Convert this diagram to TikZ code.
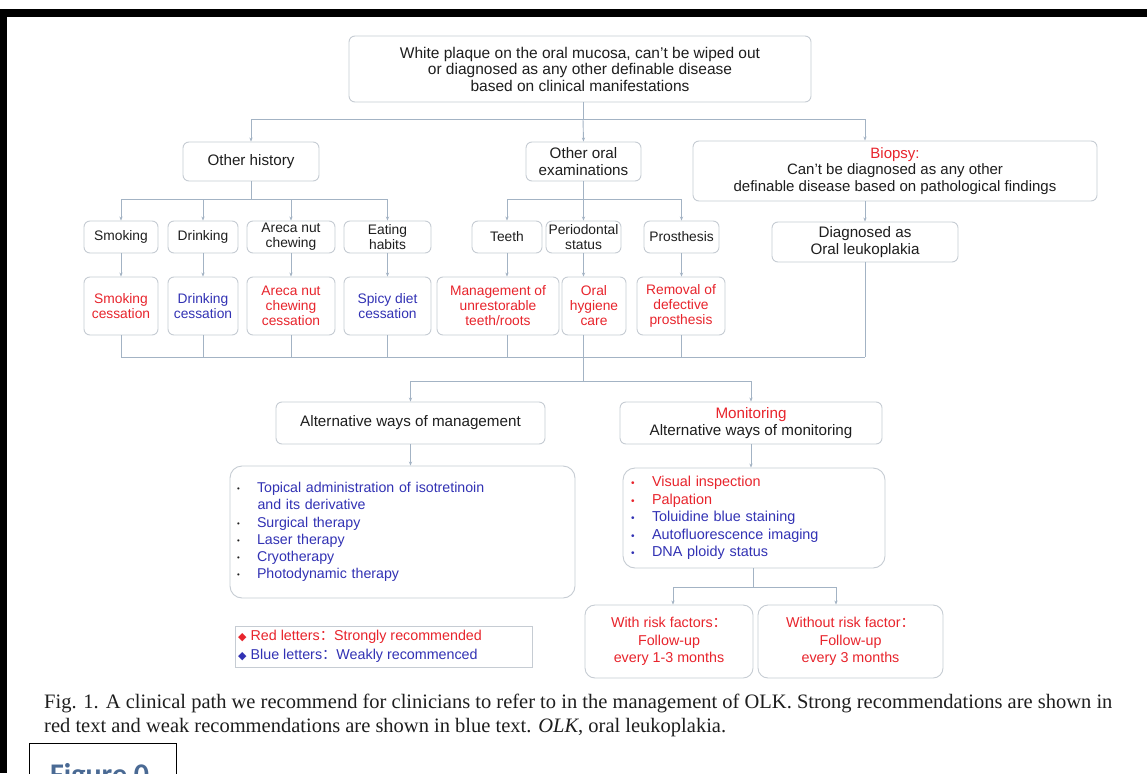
\documentclass[tikz,border=0pt]{standalone}
\usepackage{fontspec}
\setmainfont{Liberation Sans}
\newfontfamily\capfont{Liberation Serif}
\newfontfamily\figfont{Carlito}
\newfontfamily\cjk{Noto Sans CJK SC}
\newfontfamily\symfont{DejaVu Sans}
\usetikzlibrary{arrows.meta}
\definecolor{rtxt}{HTML}{E8242C}
\definecolor{btxt}{HTML}{3232B4}
\definecolor{ktxt}{HTML}{1E1E1E}
\definecolor{lncol}{HTML}{A3B3C4}
\definecolor{bxcol}{HTML}{C6CCD3}
\definecolor{figblue}{HTML}{4A6A94}
\newcommand{\fcolon}{{\cjk ：}}
\begin{document}
\begin{tikzpicture}[x=1pt,y=-1pt,
 bx/.style={draw=bxcol, line width=0.9pt, rounded corners=6pt, fill=white, align=center, inner sep=0pt, text=ktxt},
 bigtxt/.style={font=\fontsize{15.2}{16.5}\selectfont},
 midtxt/.style={font=\fontsize{13.8}{15}\selectfont},
 ln/.style={draw=lncol, line width=0.9pt},
 arr/.style={ln, -{Stealth[length=4pt,width=3.2pt]}},
]
\useasboundingbox (0,0) rectangle (1147,773);
\clip (0,0) rectangle (1147,773);
\fill[white] (0,0) rectangle (1147,773);
% black frame
\fill[black] (0,9) rectangle (1147,17);
\fill[black] (0,9) rectangle (7,773);

% top box
\node[bx, font=\fontsize{15.5}{16.5}\selectfont, minimum width=462pt, minimum height=66pt] (top) at (580,69)
 {White plaque on the oral mucosa, can't be wiped out\\or diagnosed as any other definable disease\\based on clinical manifestations};

% level 1
\node[bx, bigtxt, minimum width=136pt, minimum height=39pt] (hist) at (251,161.5) {Other history};
\node[bx, bigtxt, minimum width=115pt, minimum height=39pt] (oral) at (583.5,161.5) {Other oral\\examinations};
\node[bx, font=\fontsize{15}{16.5}\selectfont, minimum width=404pt, minimum height=60pt] (biop) at (895,171)
 {\textcolor{rtxt}{Biopsy:}\\Can't be diagnosed as any other\\definable disease based on pathological findings};
\node[bx, bigtxt, minimum width=186pt, minimum height=40pt] (diag) at (865,242) {Diagnosed as\\Oral leukoplakia};

% level 2
\node[bx, midtxt, minimum width=74pt, minimum height=32pt] (smk) at (121,237) {Smoking};
\node[bx, midtxt, minimum width=70pt, minimum height=32pt] (drk) at (203,237) {Drinking};
\node[bx, midtxt, minimum width=88pt, minimum height=32pt] (are) at (291,237) {Areca nut\\chewing};
\node[bx, midtxt, minimum width=87pt, minimum height=32pt] (eat) at (387.5,237) {Eating\\habits};
\node[bx, midtxt, minimum width=70pt, minimum height=32pt] (tee) at (507,237) {Teeth};
\node[bx, midtxt, minimum width=75pt, minimum height=32pt] (per) at (583.5,237) {Periodontal\\status};
\node[bx, midtxt, minimum width=75pt, minimum height=32pt] (pro) at (681.5,237) {Prosthesis};

% level 3
\node[bx, midtxt, text=rtxt, minimum width=74pt, minimum height=58pt] (smkc) at (121,306) {Smoking\\cessation};
\node[bx, midtxt, text=btxt, minimum width=70pt, minimum height=58pt] (drkc) at (203,306) {Drinking\\cessation};
\node[bx, midtxt, text=rtxt, minimum width=88pt, minimum height=58pt] (arec) at (291,306) {Areca nut\\chewing\\cessation};
\node[bx, midtxt, text=btxt, minimum width=87pt, minimum height=58pt] (spc) at (387.5,306) {Spicy diet\\cessation};
\node[bx, midtxt, text=rtxt, minimum width=122pt, minimum height=58pt] (mgc) at (498,306) {Management of\\unrestorable\\teeth/roots};
\node[bx, midtxt, text=rtxt, minimum width=64pt, minimum height=58pt] (ohc) at (594,306) {Oral\\hygiene\\care};
\node[bx, midtxt, text=rtxt, minimum width=88pt, minimum height=58pt] (rmc) at (681,306) {Removal of\\defective\\prosthesis};

% level 4
\node[bx, bigtxt, minimum width=269pt, minimum height=42pt] (alt) at (410.5,423) {Alternative ways of management};
\node[bx, bigtxt, minimum width=262pt, minimum height=42pt] (mon) at (751,423) {\textcolor{rtxt}{Monitoring}\\Alternative ways of monitoring};

% lists
\node[bx, rounded corners=12pt, font=\fontsize{14.2}{17.2}\selectfont, text=btxt, align=left,
  text width=331pt, inner xsep=7pt, minimum height=132pt] (altl) at (402.5,532) {%
 \makebox[20pt][l]{\textcolor{ktxt}{\raisebox{1pt}{\scalebox{0.55}{•}}}}Topical administration of isotretinoin\\
 \hspace*{20.5pt}and its derivative\\
 \makebox[20pt][l]{\textcolor{ktxt}{\raisebox{1pt}{\scalebox{0.55}{•}}}}Surgical therapy\\
 \makebox[20pt][l]{\textcolor{ktxt}{\raisebox{1pt}{\scalebox{0.55}{•}}}}Laser therapy\\
 \makebox[20pt][l]{\textcolor{ktxt}{\raisebox{1pt}{\scalebox{0.55}{•}}}}Cryotherapy\\
 \makebox[20pt][l]{\textcolor{ktxt}{\raisebox{1pt}{\scalebox{0.55}{•}}}}Photodynamic therapy};
\node[bx, rounded corners=12pt, font=\fontsize{14.4}{17.5}\selectfont, align=left,
  text width=246pt, inner xsep=8pt, minimum height=100pt] (monl) at (754,518) {%
 \makebox[21pt][l]{\textcolor{rtxt}{\scalebox{0.7}{•}}}\textcolor{rtxt}{Visual inspection}\\
 \makebox[21pt][l]{\textcolor{rtxt}{\scalebox{0.7}{•}}}\textcolor{rtxt}{Palpation}\\
 \makebox[21pt][l]{\textcolor{btxt}{\scalebox{0.7}{•}}}\textcolor{btxt}{Toluidine blue staining}\\
 \makebox[21pt][l]{\textcolor{btxt}{\scalebox{0.7}{•}}}\textcolor{btxt}{Autofluorescence imaging}\\
 \makebox[21pt][l]{\textcolor{btxt}{\scalebox{0.7}{•}}}\textcolor{btxt}{DNA ploidy status}};

% follow-up
\node[bx, rounded corners=10pt, font=\fontsize{14.3}{17.5}\selectfont, text=rtxt, minimum width=168pt, minimum height=73pt] (wrf) at (669,641.5)
 {With risk factors\fcolon\\Follow-up\\every 1-3 months};
\node[bx, rounded corners=10pt, font=\fontsize{14.3}{17.5}\selectfont, text=rtxt, minimum width=185pt, minimum height=73pt] (wof) at (850.5,641.5)
 {Without risk factor\fcolon\\Follow-up\\every 3 months};

% legend
\node[draw=bxcol, line width=0.9pt, fill=white, minimum width=297pt, minimum height=41pt, inner sep=0pt] (leg) at (383.5,646.5) {};
\node[anchor=west, inner sep=0pt, font=\fontsize{14.3}{16}\selectfont, text=rtxt] (leg1) at (238,637)
 {{\symfont\fontsize{11}{12}\selectfont ◆} Red letters\fcolon Strongly recommended};
\node[anchor=west, inner sep=0pt, font=\fontsize{14.3}{16}\selectfont, text=btxt] (leg2) at (238,656)
 {{\symfont\fontsize{11}{12}\selectfont ◆} Blue letters\fcolon Weakly recommenced};

% junction coordinates
\coordinate (j1) at (583,119);
\coordinate (j2) at (251,199);
\coordinate (j3) at (583.5,199);
\coordinate (bus) at (583.5,357);
\coordinate (j4) at (583.5,381);
\coordinate (j5) at (753,587);
\coordinate (fa) at (673,587);
\coordinate (fb) at (836,587);

% connectors top
\draw[ln] (top.south -| j1) -- (j1);
\draw[ln] (hist.north |- j1) -- (diag.north |- j1);
\draw[arr] (hist.north |- j1) -- (hist.north);
\draw[arr] (j1) -- (oral.north);
\draw[arr] (diag.north |- j1) -- (diag.north |- biop.north);
\draw[arr] (diag.north |- biop.south) -- (diag.north);

% other history branch
\draw[ln] (hist.south) -- (j2);
\draw[ln] (smk.north |- j2) -- (eat.north |- j2);
\foreach \n in {smk,drk,are,eat} \draw[arr] (\n.north |- j2) -- (\n.north);
% oral branch
\draw[ln] (oral.south) -- (j3);
\draw[ln] (tee.north |- j3) -- (pro.north |- j3);
\foreach \n in {tee,per,pro} \draw[arr] (\n.north |- j3) -- (\n.north);

% level2 -> level3
\draw[arr] (smk.south) -- (smkc.north);
\draw[arr] (drk.south) -- (drkc.north);
\draw[arr] (are.south) -- (arec.north);
\draw[arr] (eat.south) -- (spc.north);
\draw[arr] (tee.south) -- (tee.south |- mgc.north);
\draw[arr] (per.south) -- (per.south |- ohc.north);
\draw[arr] (pro.south) -- (pro.south |- rmc.north);

% level3 -> bus
\foreach \n in {smkc,drkc,arec,spc} \draw[ln] (\n.south) -- (\n.south |- bus);
\draw[ln] (tee.south |- mgc.south) -- (tee.south |- bus);
\draw[ln] (per.south |- ohc.south) -- (per.south |- bus);
\draw[ln] (pro.south |- rmc.south) -- (pro.south |- bus);
\draw[ln] (diag.south) -- (diag.south |- bus);
\draw[ln] (smkc.south |- bus) -- (diag.south |- bus);

% bus -> level 4
\draw[ln] (bus) -- (j4);
\draw[ln] (alt.north |- j4) -- (mon.north |- j4);
\draw[arr] (alt.north |- j4) -- (alt.north);
\draw[arr] (mon.north |- j4) -- (mon.north);
\draw[arr] (alt.south) -- (alt.south |- altl.north);
\draw[arr] (mon.south) -- (mon.south |- monl.north);

% monitoring -> follow ups
\draw[ln] (j5 |- monl.south) -- (j5);
\draw[ln] (fa) -- (fb);
\draw[arr] (fa) -- (fa |- wrf.north);
\draw[arr] (fb) -- (fb |- wof.north);

% caption
\node[anchor=base west, inner sep=0pt, font=\capfont\fontsize{20.5}{24}\selectfont, text=ktxt] (cap1) at (44,708)
 {Fig. 1.\hspace{7pt}A clinical path we recommend for clinicians to refer to in the management of OLK. Strong recommendations are shown in};
\node[anchor=base west, inner sep=0pt, font=\capfont\fontsize{20.5}{24}\selectfont, text=ktxt] (cap2) at (44,732)
 {red text and weak recommendations are shown in blue text. \textit{OLK}, oral leukoplakia.};

% Figure 0 box
\node[draw=black, line width=1pt, fill=white, minimum width=147pt, minimum height=50pt, inner sep=0pt] (figbox) at (102.5,768) {};
\node[anchor=base west, inner sep=0pt, font=\figfont\bfseries\fontsize{30}{34}\selectfont, text=figblue] (figtxt) at (50,784) {Figure 0};
\end{tikzpicture}
\end{document}
